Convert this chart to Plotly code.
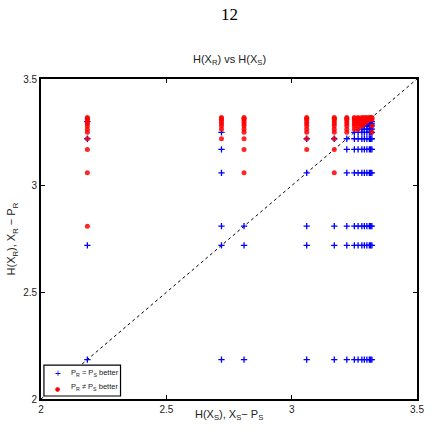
import plotly.graph_objects as go

# distinct entropy values (columns of x = H(X_S))
cols = [2.185, 2.72, 2.81, 3.06, 3.17, 3.22, 3.25, 3.265, 3.28, 3.29, 3.30, 3.31, 3.315, 3.32]

# per column: y values (H(X_R)) of blue "+" points (P_R = P_S better)
blue_y = {
    2.185: [2.185, 2.72, 3.22, 3.30],
    2.72: [2.185, 2.72, 2.81, 3.06, 3.17, 3.25],
    2.81: [2.185, 2.72, 2.81],
    3.06: [2.185, 2.72, 2.81, 3.06, 3.22],
    3.17: [2.185, 2.72, 2.81, 3.22],
    3.22: [2.185, 2.72, 2.81, 3.06, 3.17, 3.22],
    3.25: [2.185, 2.72, 2.81, 3.06, 3.17, 3.22, 3.25],
    3.265: [2.185, 2.72, 2.81, 3.06, 3.17, 3.22, 3.25],
    3.28: [2.185, 2.72, 2.81, 3.06, 3.17, 3.22, 3.25, 3.265],
    3.29: [2.185, 2.72, 2.81, 3.06, 3.17, 3.22, 3.25, 3.265, 3.28],
    3.30: [2.185, 2.72, 2.81, 3.06, 3.17, 3.22, 3.25, 3.265, 3.28, 3.29],
    3.31: [2.185, 2.72, 2.81, 3.06, 3.17, 3.22, 3.25, 3.265, 3.28, 3.29, 3.30],
    3.315: [2.185, 2.72, 2.81, 3.06, 3.17, 3.22, 3.25, 3.265, 3.28, 3.29, 3.30],
    3.32: [2.185, 2.72, 2.81, 3.06, 3.17, 3.22, 3.25, 3.265, 3.28, 3.29, 3.30],
}

# per column: y values of red dots (P_R != P_S better)
red_y = {
    2.185: [2.81, 3.06, 3.17, 3.22, 3.25, 3.265, 3.28, 3.29, 3.30, 3.31, 3.315, 3.32],
    2.72: [3.22, 3.265, 3.28, 3.29, 3.30, 3.31, 3.315, 3.32],
    2.81: [3.06, 3.17, 3.22, 3.25, 3.265, 3.28, 3.29, 3.30, 3.31, 3.315, 3.32],
    3.06: [3.17, 3.22, 3.25, 3.265, 3.28, 3.29, 3.30, 3.31, 3.315, 3.32],
    3.17: [3.06, 3.17, 3.22, 3.25, 3.265, 3.28, 3.29, 3.30, 3.31, 3.315, 3.32],
    3.22: [3.25, 3.265, 3.28, 3.29, 3.30, 3.31, 3.315, 3.32],
    3.25: [3.265, 3.28, 3.29, 3.30, 3.31, 3.315, 3.32],
    3.265: [3.265, 3.28, 3.29, 3.30, 3.31, 3.315, 3.32],
    3.28: [3.28, 3.29, 3.30, 3.31, 3.315, 3.32],
    3.29: [3.29, 3.30, 3.31, 3.315, 3.32],
    3.30: [3.30, 3.31, 3.315, 3.32],
    3.31: [3.31, 3.315, 3.32],
    3.315: [3.315, 3.32],
    3.32: [3.25, 3.28, 3.31, 3.315, 3.32],
}

diag = [2.0, 3.5]
xticks = [2, 2.5, 3, 3.5]
yticks = [2, 2.5, 3, 3.5]
legend_labels = ["P<sub>R</sub> = P<sub>S</sub> better", "P<sub>R</sub> ≠ P<sub>S</sub> better"]

bx, by, rx, ry = [], [], [], []
for c in cols:
    for v in blue_y[c]:
        bx.append(c); by.append(v)
    for v in red_y[c]:
        rx.append(c); ry.append(v)

fig = go.Figure()
fig.add_trace(go.Scatter(x=diag, y=diag, mode="lines",
                         line=dict(color="black", width=1, dash="3px,3px"),
                         showlegend=False, hoverinfo="skip"))
fig.add_trace(go.Scatter(x=bx, y=by, mode="markers", name=legend_labels[0], showlegend=False,
                         marker=dict(symbol="cross-thin", size=4.5, color="#0000ff",
                                     line=dict(color="#0000ff", width=1.3))))
fig.add_trace(go.Scatter(x=rx, y=ry, mode="markers", name=legend_labels[1], showlegend=False,
                         marker=dict(symbol="circle", size=5, color="#ff0000",
                                     line=dict(width=0), opacity=0.85)))

axis_common = dict(showgrid=False, zeroline=False, ticks="inside", ticklen=4,
                   tickcolor="black", showline=True, linecolor="black", linewidth=1.8,
                   mirror="ticks", tickfont=dict(family="Liberation Sans, Arial", size=10, color="#222"))
fig.update_xaxes(range=[2, 3.5], tickvals=xticks, ticktext=["2", "2.5", "3", "3.5"], **axis_common)
fig.update_yaxes(range=[2, 3.5], tickvals=yticks, ticktext=["2", "2.5", "3", "3.5"], **axis_common)

leg_font = dict(family="Liberation Sans, Arial", size=7.5, color="#222")
fig.update_layout(
    width=436, height=436,
    margin=dict(l=41, r=12, t=79, b=37),
    paper_bgcolor="white", plot_bgcolor="white",
    showlegend=False,
    shapes=[dict(type="rect", xref="paper", yref="paper", x0=0.0078, x1=0.2115, y0=0.0094, y1=0.106,
                 line=dict(color="black", width=1.2), fillcolor="white", layer="above")],
    annotations=[
        dict(text="12", x=0.5, y=1.0, xref="paper", yref="paper", showarrow=False,
             font=dict(family="Liberation Serif, DejaVu Serif", size=17, color="black"),
             xanchor="center", yanchor="middle", yshift=65),
        dict(text="H(X<sub>R</sub>) vs H(X<sub>S</sub>)", x=0.5, y=1.06, xref="paper", yref="paper",
             showarrow=False, font=dict(family="Liberation Sans, Arial", size=11, color="#222"),
             xanchor="center", yanchor="middle"),
        dict(text="H(X<sub>S</sub>), X<sub>S</sub>− P<sub>S</sub>", x=0.5, y=-0.05, xref="paper", yref="paper",
             showarrow=False, font=dict(family="Liberation Sans, Arial", size=11, color="#222"),
             xanchor="center", yanchor="middle"),
        dict(text="H(X<sub>R</sub>), X<sub>R</sub> − P<sub>R</sub>", x=-0.076, y=0.5, xref="paper", yref="paper",
             showarrow=False, textangle=-90, font=dict(family="Liberation Sans, Arial", size=11, color="#222"),
             xanchor="center", yanchor="middle"),
        # legend symbols and labels
        dict(text="+", x=0.044, y=0.079, xref="paper", yref="paper", showarrow=False,
             font=dict(family="Liberation Sans, Arial", size=10, color="#0000ff"),
             xanchor="center", yanchor="middle"),
        dict(text="●", x=0.044, y=0.034, xref="paper", yref="paper", showarrow=False,
             font=dict(family="DejaVu Sans", size=6, color="#ff0000"),
             xanchor="center", yanchor="middle"),
        dict(text=legend_labels[0], x=0.074, y=0.08, xref="paper", yref="paper", showarrow=False,
             font=leg_font, xanchor="left", yanchor="middle"),
        dict(text=legend_labels[1], x=0.074, y=0.036, xref="paper", yref="paper", showarrow=False,
             font=leg_font, xanchor="left", yanchor="middle"),
    ],
)

fig.write_html("out.html")
